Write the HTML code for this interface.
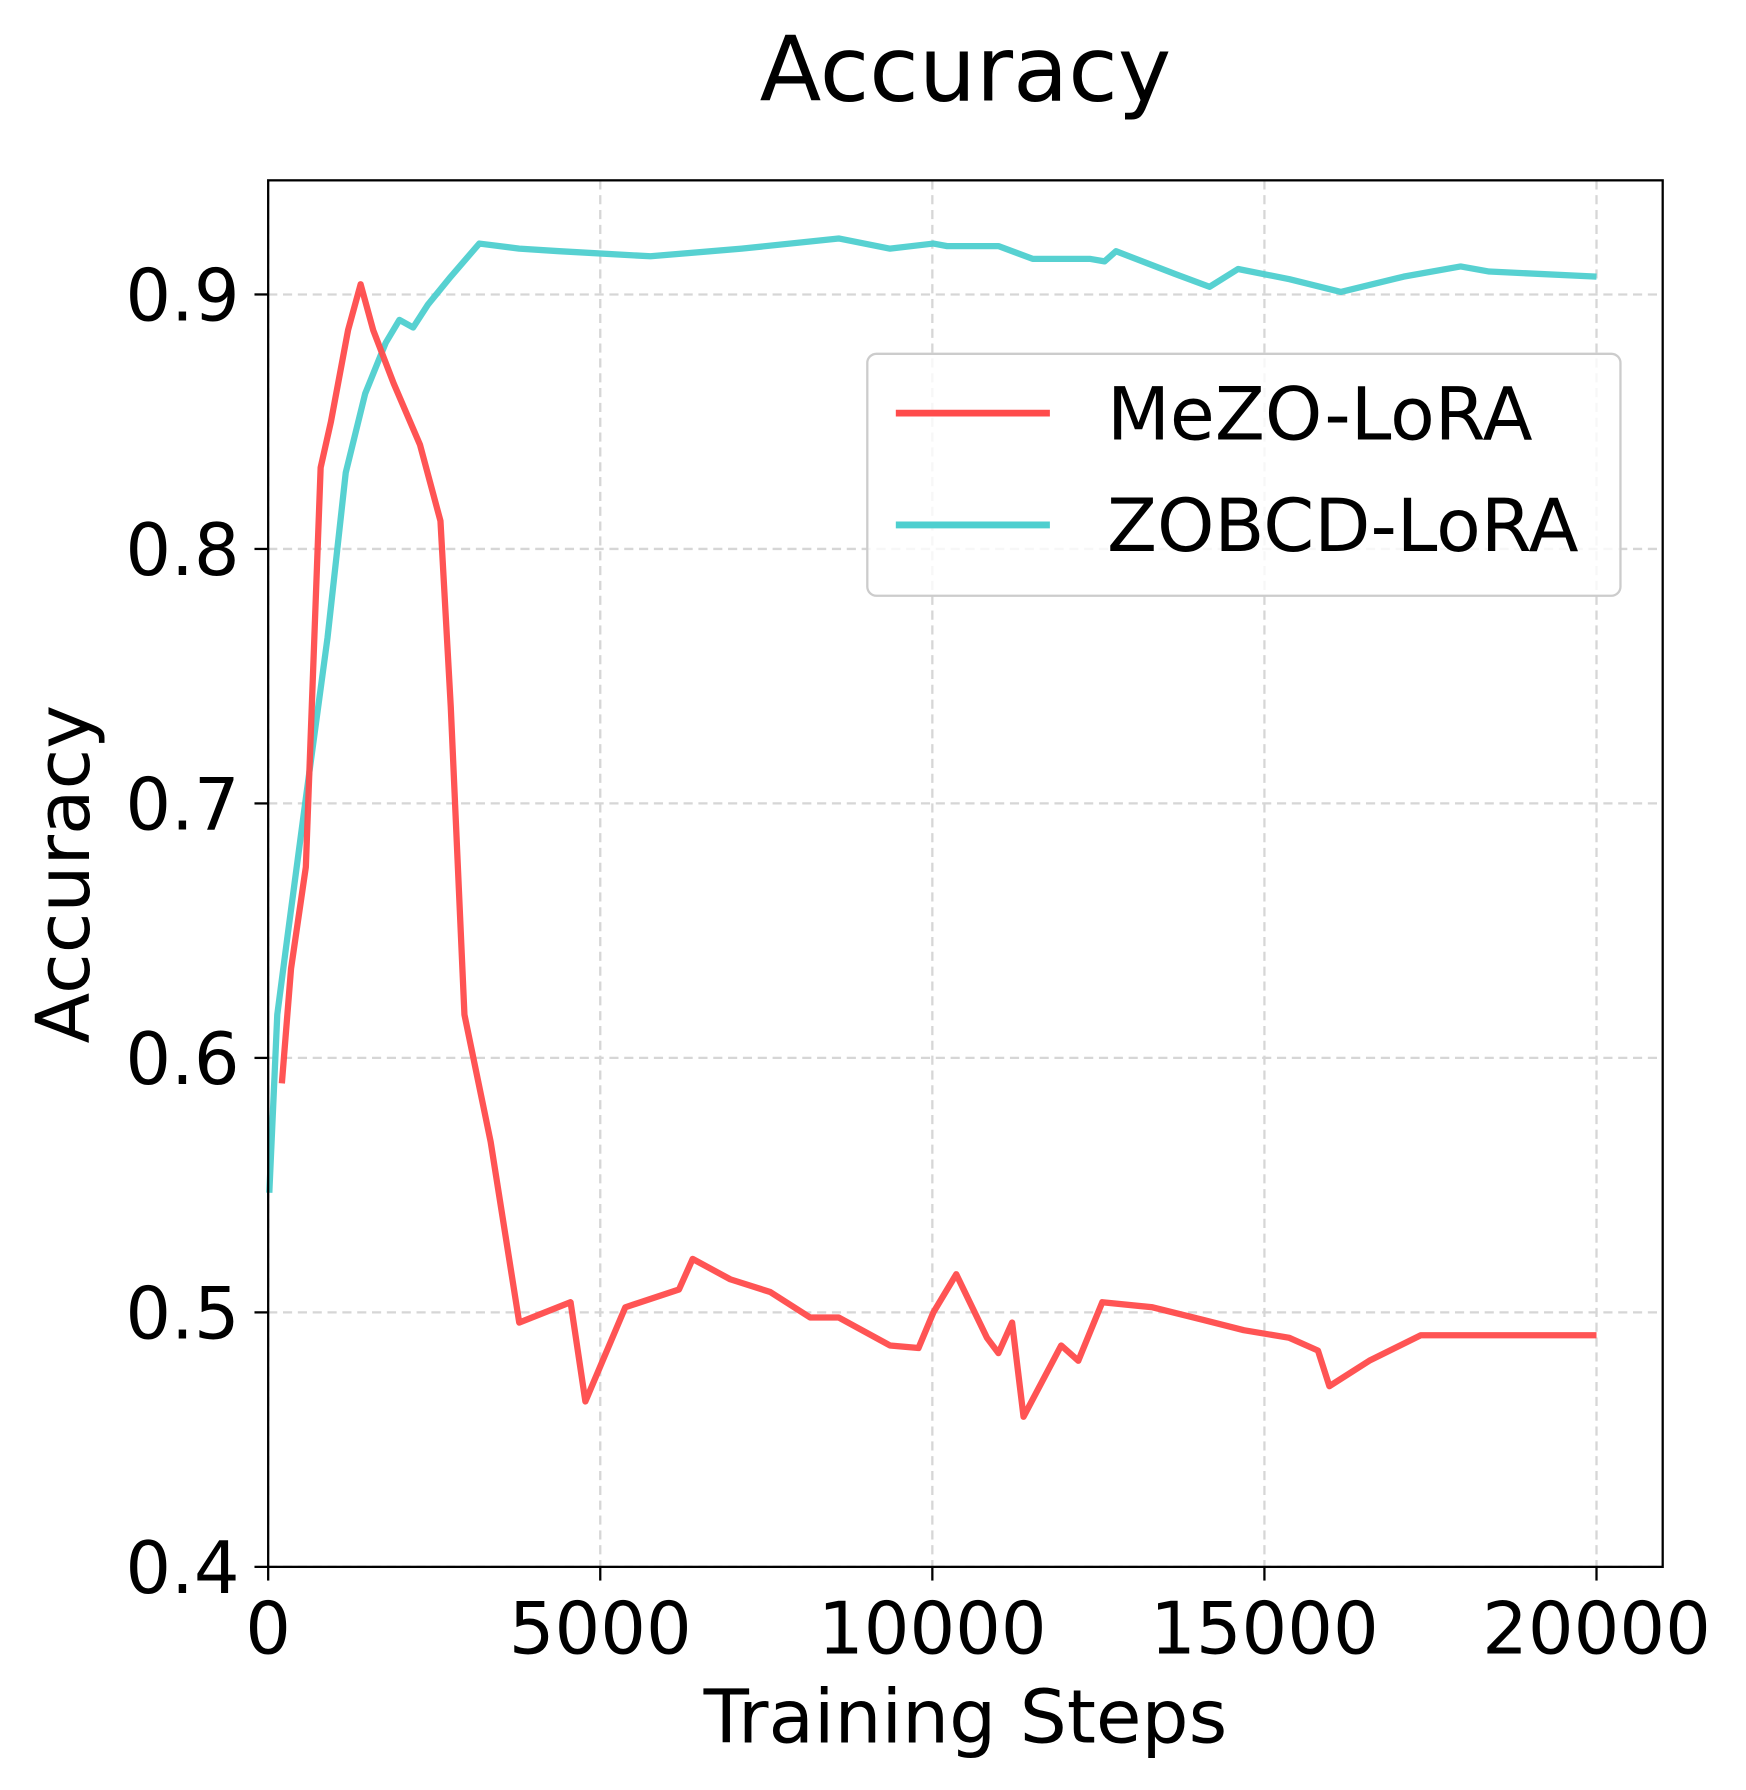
<!DOCTYPE html>
<html><head><meta charset="utf-8"><style>html,body{margin:0;padding:0;background:#fff}svg{display:block}text{font-family:"DejaVu Sans","Liberation Sans",sans-serif;fill:#000}</style></head>
<body>
<svg id="chart" width="1746" height="1790" viewBox="0 0 1530 1568.5" xmlns="http://www.w3.org/2000/svg">
<text x="846" y="88" font-size="79" text-anchor="middle">Accuracy</text>
<g id="grid"></g>
<g id="series"></g>
<rect x="235" y="158" width="1222" height="1215" fill="none" stroke="#000" stroke-width="2"/>
<g id="ticks"></g>
<text x="846" y="1527" font-size="65" text-anchor="middle">Training Steps</text>
<text transform="translate(78,766) rotate(-90)" font-size="65" text-anchor="middle">Accuracy</text>
<g>
<rect x="760" y="310" width="660" height="212" rx="8" fill="#fff" fill-opacity="0.8" stroke="#ccc" stroke-width="2"/>
<line x1="785" y1="362" x2="920" y2="362" stroke="#ff4b4b" stroke-width="6"/>
<text x="970" y="385" font-size="64">MeZO-LoRA</text>
<line x1="785" y1="460" x2="920" y2="460" stroke="#4ecfcf" stroke-width="6"/>
<text x="970" y="483" font-size="64">ZOBCD-LoRA</text>
</g>
</svg>
<script>
const xTicks=[0,5000,10000,15000,20000];
const yTicks=[0.4,0.5,0.6,0.7,0.8,0.9];
const yTickLabels=["0.4","0.5","0.6","0.7","0.8","0.9"];
const mezoSteps=[206,344,567,790,945,1203,1392,1581,1890,2285,2594,2749,2955,3350,3780,4553,4776,5377,6185,6391,6958,7559,8160,8590,9363,9792,10016,10360,10823,10995,11201,11373,11940,12198,12559,13315,14088,14689,15376,15806,15978,16579,17352,20000];
const mezoAcc=[0.590,0.635,0.675,0.832,0.850,0.886,0.904,0.886,0.865,0.841,0.811,0.738,0.617,0.567,0.496,0.504,0.465,0.502,0.509,0.521,0.513,0.508,0.498,0.498,0.487,0.486,0.500,0.515,0.490,0.484,0.496,0.459,0.487,0.481,0.504,0.502,0.497,0.493,0.490,0.485,0.471,0.481,0.491,0.491];
const zobcdSteps=[17,137,292,567,893,1168,1460,1770,1976,2182,2405,2749,3179,3780,4381,5756,7130,8590,9363,10016,10223,10995,11510,12369,12593,12765,13658,14174,14603,15376,16151,17095,17954,18384,20000];
const zobcdAcc=[0.547,0.617,0.648,0.702,0.765,0.830,0.861,0.881,0.890,0.887,0.896,0.907,0.920,0.918,0.917,0.915,0.918,0.922,0.918,0.920,0.919,0.919,0.914,0.914,0.913,0.917,0.908,0.903,0.910,0.906,0.901,0.907,0.911,0.909,0.907];
const NS="http://www.w3.org/2000/svg";
const xS=v=>235+v*(1399-235)/20000;
const yS=v=>1373-(v-0.4)*(1373-258)/0.5;
function mk(t,a,p){const e=document.createElementNS(NS,t);for(const k in a)e.setAttribute(k,a[k]);p.appendChild(e);return e;}
const grid=document.getElementById('grid'),ticks=document.getElementById('ticks'),series=document.getElementById('series');
xTicks.forEach(v=>{
 const g=mk('line',{x1:xS(v),x2:xS(v),y1:158,y2:1373,stroke:'#d6d6d6','stroke-width':2,'stroke-dasharray':'8,5'},grid);
 
 
 const t=mk('line',{x1:xS(v),x2:xS(v),y1:1373,y2:1385,stroke:'#000','stroke-width':2},ticks);
 
 
 const l=mk('text',{x:xS(v),y:1449,'font-size':63,'text-anchor':'middle'},ticks);l.textContent=String(v);
 
 
});
yTicks.forEach((v,i)=>{
 const g=mk('line',{x1:235,x2:1457,y1:yS(v),y2:yS(v),stroke:'#d6d6d6','stroke-width':2,'stroke-dasharray':'8,5'},grid);
 
 
 const t=mk('line',{x1:223,x2:235,y1:yS(v),y2:yS(v),stroke:'#000','stroke-width':2},ticks);
 
 
 const l=mk('text',{x:210,y:yS(v)+23,'font-size':63,'text-anchor':'end'},ticks);l.textContent=yTickLabels[i];
 
 
});
function line(xs,ys,c,name){
 const p=mk('polyline',{points:xs.map((x,i)=>xS(x)+','+yS(ys[i])).join(' '),fill:'none',stroke:c,'stroke-width':5.5,'stroke-opacity':0.95,'stroke-linejoin':'round'},series);
 
 
}
line(zobcdSteps,zobcdAcc,'#4ecfcf','zobcd-lora-line');
line(mezoSteps,mezoAcc,'#ff4b4b','mezo-lora-line');
</script>
</body></html>
